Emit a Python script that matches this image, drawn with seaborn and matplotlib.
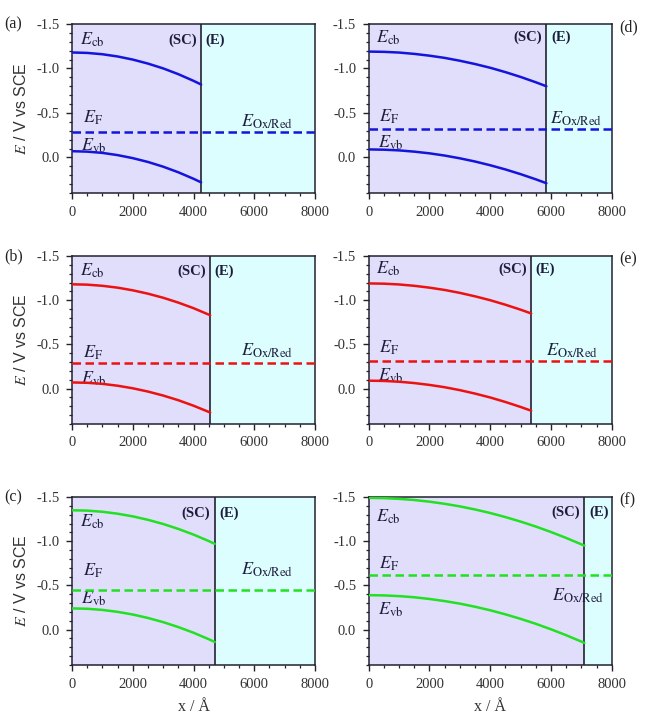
import numpy as np
import pandas as pd
import matplotlib
matplotlib.use("Agg")
import matplotlib.pyplot as plt
from matplotlib.ticker import MultipleLocator
import seaborn as sns

# ---- data: band edges (V vs SCE) across the semiconductor, x in Angstrom ----
panel_labels = ["(a)", "(b)", "(c)", "(d)", "(e)", "(f)"]
line_colors = ["#1414dc", "#ec1212", "#22e022", "#1414dc", "#ec1212", "#22e022"]

# depletion width / semiconductor-electrolyte interface position
interface_x = [4250, 4550, 4700, 5850, 5350, 7100]
# Fermi level = redox potential (dashed line)
fermi_level = [-0.29, -0.29, -0.45, -0.32, -0.31, -0.62]

x_a = [0, 500, 1000, 1500, 2000, 2500, 3000, 3500, 4000, 4250]
ecb_a = [-1.180, -1.175, -1.160, -1.135, -1.100, -1.055, -1.001, -0.936, -0.861, -0.820]
evb_a = [-0.070, -0.065, -0.051, -0.026, 0.008, 0.051, 0.104, 0.167, 0.240, 0.280]

x_b = [0, 500, 1000, 1500, 2000, 2500, 3000, 3500, 4000, 4550]
ecb_b = [-1.180, -1.176, -1.163, -1.142, -1.112, -1.074, -1.028, -0.973, -0.910, -0.830]
evb_b = [-0.070, -0.066, -0.054, -0.033, -0.004, 0.033, 0.078, 0.131, 0.193, 0.270]

x_c = [0, 500, 1000, 1500, 2000, 2500, 3000, 3500, 4000, 4500, 4700]
ecb_c = [-1.350, -1.346, -1.333, -1.311, -1.281, -1.242, -1.195, -1.139, -1.075, -1.002, -0.970]
evb_c = [-0.240, -0.236, -0.223, -0.201, -0.171, -0.132, -0.085, -0.029, 0.035, 0.108, 0.140]

x_d = [0, 500, 1000, 1500, 2000, 2500, 3000, 3500, 4000, 4500, 5000, 5500, 5850]
ecb_d = [-1.190, -1.187, -1.179, -1.164, -1.144, -1.119, -1.087, -1.050, -1.008, -0.959, -0.905, -0.845, -0.800]
evb_d = [-0.090, -0.087, -0.079, -0.065, -0.046, -0.021, 0.010, 0.046, 0.088, 0.135, 0.188, 0.246, 0.290]

x_e = [0, 500, 1000, 1500, 2000, 2500, 3000, 3500, 4000, 4500, 5000, 5350]
ecb_e = [-1.190, -1.187, -1.178, -1.163, -1.142, -1.116, -1.083, -1.044, -1.000, -0.949, -0.893, -0.850]
evb_e = [-0.090, -0.087, -0.078, -0.063, -0.042, -0.016, 0.017, 0.056, 0.100, 0.151, 0.207, 0.250]

x_f = [0, 500, 1000, 1500, 2000, 2500, 3000, 3500, 4000, 4500, 5000, 5500, 6000, 6500, 7000, 7100]
ecb_f = [-1.490, -1.487, -1.479, -1.466, -1.447, -1.423, -1.394, -1.359, -1.319, -1.273, -1.222, -1.166, -1.104, -1.037, -0.965, -0.950]
evb_f = [-0.390, -0.387, -0.379, -0.366, -0.347, -0.323, -0.294, -0.259, -0.219, -0.173, -0.122, -0.066, -0.004, 0.063, 0.135, 0.150]

x_ticks = [0, 2000, 4000, 6000, 8000]
y_ticks = [-1.5, -1.0, -0.5, 0.0]

curves = [(x_a, ecb_a, evb_a), (x_b, ecb_b, evb_b), (x_c, ecb_c, evb_c),
          (x_d, ecb_d, evb_d), (x_e, ecb_e, evb_e), (x_f, ecb_f, evb_f)]

# ---- label placement (data coordinates) ----
cb_label_y = [-1.32, -1.33, -1.22, -1.35, -1.35, -1.28]
ef_label_y = [-0.44, -0.41, -0.67, -0.46, -0.46, -0.75]
vb_label_y = [-0.13, -0.11, -0.35, -0.16, -0.14, -0.22]
ox_label_x = [5550, 5550, 5580, 5960, 5850, 6050]
ox_label_y = [-0.40, -0.43, -0.68, -0.43, -0.43, -0.38]
sc_label_y = [-1.32, -1.33, -1.32, -1.35, -1.35, -1.33]

sns.set_theme(style="ticks")
plt.rcParams["font.family"] = ["Liberation Serif", "DejaVu Serif"]
plt.rcParams["mathtext.fontset"] = "stix"
plt.rcParams["axes.linewidth"] = 1.1
plt.rcParams["axes.edgecolor"] = "#222230"

fig = plt.figure(figsize=(6.45, 7.2), dpi=100)

col_left = [72 / 645, 368.7 / 645]
ax_w = 243 / 645
row_bottom = [1 - 193 / 720, 1 - 424 / 720, 1 - 665 / 720]
row_h = [169 / 720, 168 / 720, 168 / 720]

sc_color = "#e0defa"
el_color = "#dcfefe"

for i in range(6):
    col = i // 3
    row = i % 3
    ax = fig.add_axes([col_left[col], row_bottom[row], ax_w, row_h[row]])
    xs, ecb, evb = curves[i]
    xi = interface_x[i]
    c = line_colors[i]

    ax.set_xlim(0, 8000)
    ax.set_ylim(0.4, -1.5)
    ax.axvspan(0, xi, color=sc_color, zorder=0, lw=0)
    ax.axvspan(xi, 8000, color=el_color, zorder=0, lw=0)
    ax.axvline(xi, color="#222230", lw=1.2, zorder=3)

    df = pd.DataFrame({"x": xs, "Ecb": ecb, "Evb": evb})
    sns.lineplot(data=df, x="x", y="Ecb", ax=ax, color=c, lw=1.8, zorder=4)
    sns.lineplot(data=df, x="x", y="Evb", ax=ax, color=c, lw=1.8, zorder=4)
    ef = pd.DataFrame({"x": [0, 8000], "E": [fermi_level[i], fermi_level[i]]})
    sns.lineplot(data=ef, x="x", y="E", ax=ax, color=c, lw=1.8, zorder=4,
                 linestyle=(0, (3.4, 1.8)))

    tcol = "#1e1e3c"
    ax.text(250, cb_label_y[i], r"$E_{\rm cb}$", fontsize=13, color=tcol,
            va="center", ha="left")
    ax.text(350, ef_label_y[i], r"$E_{\rm F}$", fontsize=13, color=tcol,
            va="center", ha="left")
    ax.text(300, vb_label_y[i], r"$E_{\rm vb}$", fontsize=13, color=tcol,
            va="center", ha="left")
    ax.text(ox_label_x[i], ox_label_y[i], r"$E_{\rm Ox/Red}$", fontsize=13,
            color=tcol, va="center", ha="left")
    ax.text(xi - 150, sc_label_y[i], "(SC)", fontsize=10.5, fontweight="bold",
            color=tcol, va="center", ha="right")
    ax.text(xi + 150, sc_label_y[i], "(E)", fontsize=10.5, fontweight="bold",
            color=tcol, va="center", ha="left")

    ax.set_xticks(x_ticks)
    ax.set_xticklabels([str(t) for t in x_ticks])
    ax.set_yticks(y_ticks)
    ax.set_yticklabels([f"{t:.1f}" if t != 0 else "0.0" for t in y_ticks])
    ax.xaxis.set_minor_locator(MultipleLocator(500))
    ax.yaxis.set_minor_locator(MultipleLocator(0.1))
    ax.tick_params(which="major", direction="out", length=4, width=1,
                   labelsize=10.5, colors="#222230", labelcolor="#333333", pad=5)
    ax.tick_params(which="minor", direction="out", length=2.2, width=0.9,
                   colors="#222230")
    ax.tick_params(top=False, right=False, which="both")
    ax.set_xlabel("")
    ax.set_ylabel("")

    if col == 0:
        ax.text(-0.28, 1.0, panel_labels[i], transform=ax.transAxes,
                fontsize=11.5, va="center", ha="left", color="#222222")
        ax.set_ylabel(r"$E$ / V vs SCE", fontsize=11.5, color="#333333",
                      family=["Liberation Sans", "DejaVu Sans"], labelpad=5)
    else:
        ax.text(1.03, 0.98, panel_labels[i], transform=ax.transAxes,
                fontsize=11.5, va="center", ha="left", color="#222222")
    if row == 2:
        ax.set_xlabel("x / Å", fontsize=11.5, color="#333333", labelpad=6)

fig.savefig("out.png", dpi=100)
